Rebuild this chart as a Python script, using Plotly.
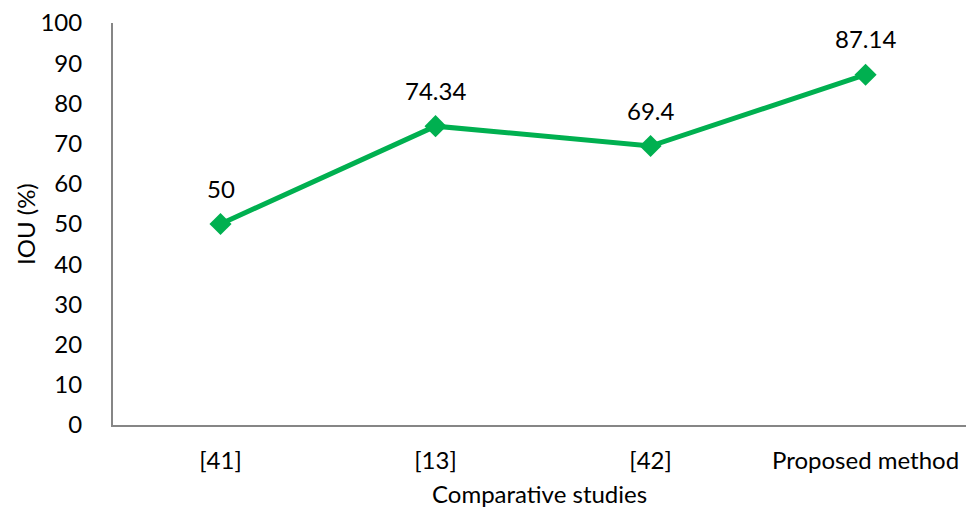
import plotly.graph_objects as go

# IoU of the compared segmentation approaches
studies = ["[41]", "[13]", "[42]", "Proposed method"]
iou = [50, 74.34, 69.4, 87.14]
y_ticks = list(range(0, 101, 10))

x_title = "Comparative studies"
y_title = "IOU (%)"

GREEN = "#00B050"
AXIS_GREY = "#868686"
FONT = "Lato"

fig = go.Figure()
fig.add_trace(go.Scatter(
    x=studies,
    y=iou,
    mode="lines+markers",
    line=dict(color=GREEN, width=5),
    marker=dict(symbol="diamond", size=17, color=GREEN),
    hoverinfo="skip",
    showlegend=False,
))

# value labels above each point
for s, v in zip(studies, iou):
    fig.add_annotation(
        x=s, y=v, text=f"{v:g}", showarrow=False,
        yshift=36, font=dict(family=FONT, size=24, color="#000000"),
    )

# axis titles placed as paper annotations for exact positioning
fig.add_annotation(
    xref="paper", yref="paper", x=0.5, y=0, yshift=-68,
    xanchor="center", yanchor="middle", showarrow=False,
    text=x_title, font=dict(family=FONT, size=24, color="#000000"),
)
fig.add_annotation(
    xref="paper", yref="paper", x=0, y=0.5, xshift=-88,
    xanchor="center", yanchor="middle", showarrow=False, textangle=-90,
    text=y_title, font=dict(family=FONT, size=24, color="#000000"),
)

fig.update_layout(
    width=966, height=510,
    margin=dict(l=113, r=0, t=23, b=85),
    plot_bgcolor="white", paper_bgcolor="white",
    font=dict(family=FONT, size=24, color="#000000"),
)
fig.update_xaxes(
    type="category",
    range=[-0.5, 3.467],
    showline=True, linecolor=AXIS_GREY, linewidth=2,
    showgrid=False, zeroline=False, ticks="",
    ticklabelstandoff=13,
)
fig.update_yaxes(
    range=[0, 100],
    tickvals=y_ticks,
    showline=True, linecolor=AXIS_GREY, linewidth=2,
    showgrid=False, zeroline=False, ticks="",
    ticklabelstandoff=24,
)

fig.write_html("out.html")
